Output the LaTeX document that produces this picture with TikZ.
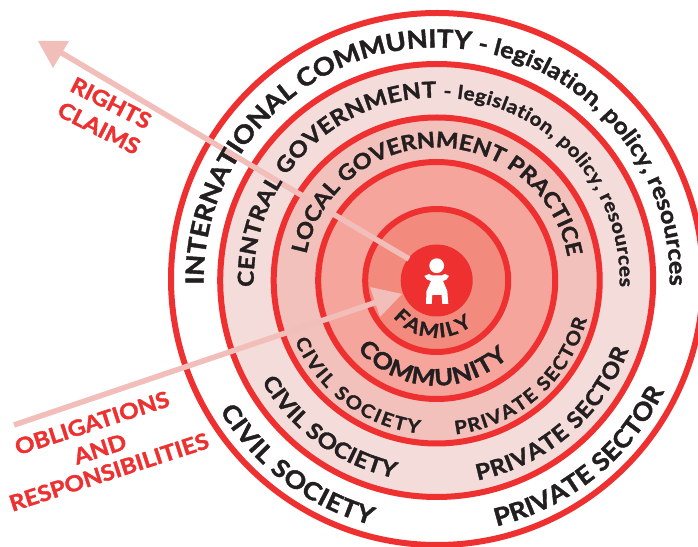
\documentclass[tikz,border=0pt]{standalone}
\usepackage{fontspec}
\setmainfont{Lato}[BoldFeatures={FakeBold=1.6,FakeStretch=1.1}]
\usetikzlibrary{decorations.text,calc}
\definecolor{redline}{HTML}{EE3130}
\definecolor{ringA}{HTML}{F4DCDA}
\definecolor{ringB}{HTML}{F3C1BC}
\definecolor{ringC}{HTML}{F5A59C}
\definecolor{ringD}{HTML}{F28B7E}
\definecolor{arrowpink}{HTML}{F2BEBA}
\definecolor{inkblack}{HTML}{231F20}
\newcommand{\fsz}[1]{\fontsize{#1}{#1}\selectfont\bfseries}
% start angle, end angle, radius, text with formatting
\newcommand{\arctext}[4]{%
  \path[decorate,decoration={text along path,text align={fit to path},
    text color=inkblack,text={#4}}]
    ($(ctr)+(#1:#3pt)$) arc[start angle=#1,end angle=#2,radius=#3pt];}
\tikzset{
  ring/.style={draw=redline,line width=#1},
  shaft/.style={draw=arrowpink,line width=5.5pt},
  head/.style={fill=arrowpink,draw=none},
  redlabel/.style={text=redline,font=\fsz{22},inner sep=0pt,align=center},
  flip/.style={shift={(0,546pt)},yscale=-1}
}
\begin{document}
\begin{tikzpicture}[x=1pt,y=1pt]
\useasboundingbox (0,0) rectangle (698,546);
\clip (0,0) rectangle (698,546);
\coordinate (ctr) at (436.7,265.5);
\coordinate (outerctr) at (437,267);
\fill[white] (0,0) rectangle (698,546);
\draw[ring=6pt,fill=white] (outerctr) circle[radius=266pt];
\draw[ring=6pt,fill=ringA] (ctr) circle[radius=216.5pt];
\draw[ring=6pt,fill=ringB] (ctr) circle[radius=163pt];
\draw[ring=6pt,fill=ringC] (ctr) circle[radius=118.5pt];
\draw[ring=6pt,fill=ringD] (ctr) circle[radius=71.5pt];
\fill[redline] (ctr) circle[radius=36pt];
\begin{scope}[flip]
  \coordinate (rightsStart) at (409,259);
  \coordinate (rightsEnd) at (60,52);
  \coordinate (dutyStart) at (14,425);
  \coordinate (dutyEnd) at (380,301);
  \draw[shaft] (rightsStart) -- (rightsEnd);
  \fill[head] (38,41) -- (69,41) -- (53,68) -- cycle;
  \draw[shaft] (dutyStart) -- (dutyEnd);
  \fill[head] (370,287) -- (402,294) -- (380,317) -- cycle;
  % child
  \fill[white] (436.7,265.7) circle[radius=7.4];
  \fill[white] (424.3,276) -- (429,274) -- (432,275.5) -- (441.5,275.5) -- (445,274) -- (449,276) -- (446.5,279.5) -- (443,281) -- (447.3,291) -- (448.3,304) -- (442.3,304) -- (441.5,295) -- (432.3,295) -- (431.7,304) -- (426,304) -- (426.5,291) -- (431,281) -- (427,279.5) -- cycle;
  \node[redlabel,rotate=-27] (rightsL) at (111,103) {RIGHTS};
  \node[redlabel,rotate=-27] (claimsL) at (99,128) {CLAIMS};
  \node[redlabel,rotate=18] (oblL) at (92,423) {OBLIGATIONS};
  \node[redlabel,rotate=18] (andL) at (100,449) {AND};
  \node[redlabel,rotate=18] (respL) at (109,472) {RESPONSIBILITIES};
\end{scope}
\arctext{181}{-1}{233}{|\fsz{25}|INTERNATIONAL COMMUNITY |\fsz{23}|- legislation, policy, resources}
\arctext{182}{-2}{183}{|\fsz{22}|CENTRAL GOVERNMENT |\fsz{19}|- legislation, policy, resources}
\arctext{168.6}{12}{133}{|\fsz{21.5}|LOCAL GOVERNMENT PRACTICE}
\arctext{211}{255}{253}{|\fsz{24.5}|CIVIL SOCIETY}
\arctext{283.7}{334}{253}{|\fsz{24.5}|PRIVATE SECTOR}
\arctext{210}{258}{202}{|\fsz{22}|CIVIL SOCIETY}
\arctext{281.6}{340}{204}{|\fsz{22}|PRIVATE SECTOR}
\arctext{203}{263.5}{154}{|\fsz{18.5}|CIVIL SOCIETY}
\arctext{277}{345.5}{155}{|\fsz{18.5}|PRIVATE SECTOR}
\arctext{221}{313}{105}{|\fsz{23}|COMMUNITY}
\arctext{220}{308.5}{57}{|\fsz{19.5}|FAMILY}
\end{tikzpicture}
\end{document}
